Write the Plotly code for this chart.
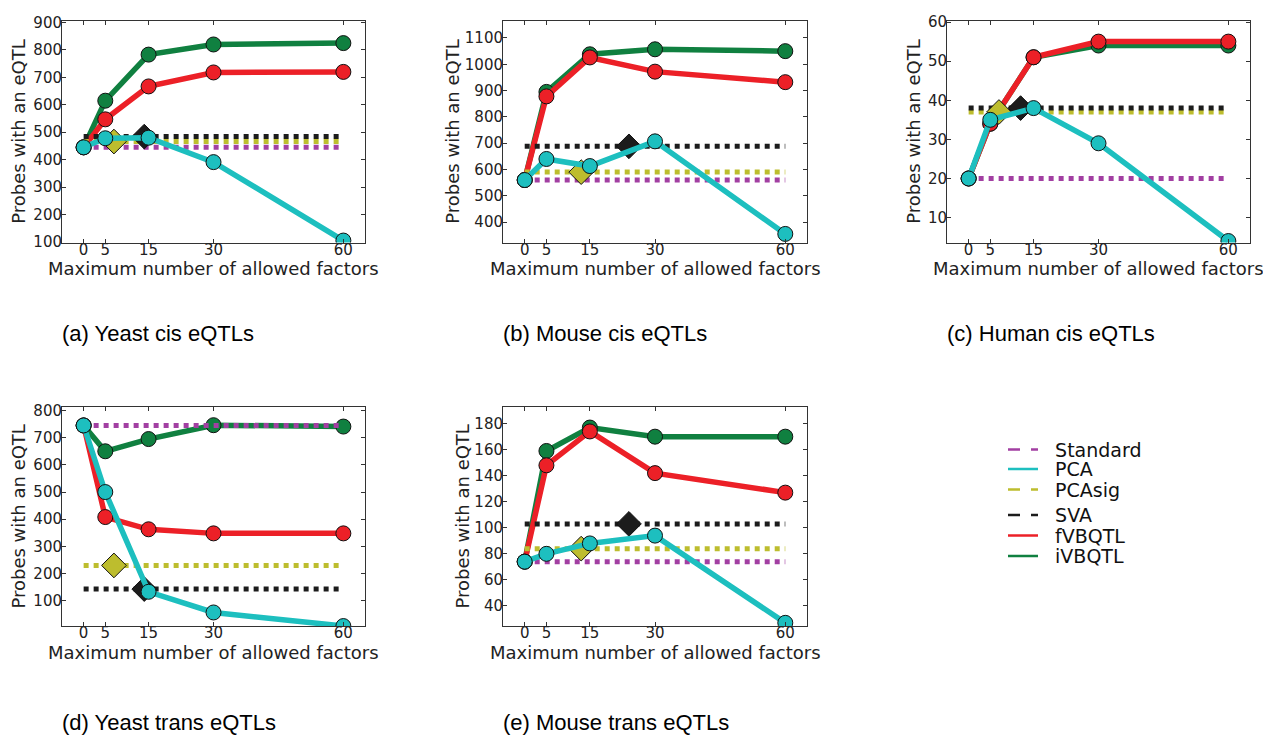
import plotly.graph_objects as go

# ---------------- data ----------------
factors = [0, 5, 15, 30, 60]
xtick_labels = ["0", "5", "15", "30", "60"]

panel_titles = ["(a) Yeast cis eQTLs", "(b) Mouse cis eQTLs", "(c) Human cis eQTLs",
                "(d) Yeast trans eQTLs", "(e) Mouse trans eQTLs"]

# (a) Yeast cis
yeast_cis_pca = [445, 478, 480, 391, 105]
yeast_cis_fvbqtl = [445, 547, 667, 718, 720]
yeast_cis_ivbqtl = [445, 615, 783, 820, 825]
yeast_cis_standard = 445
yeast_cis_pcasig = 466
yeast_cis_pcasig_k = 7
yeast_cis_sva = 484
yeast_cis_sva_k = 14

# (b) Mouse cis
mouse_cis_pca = [560, 640, 613, 707, 355]
mouse_cis_fvbqtl = [560, 878, 1026, 972, 932]
mouse_cis_ivbqtl = [560, 895, 1038, 1057, 1050]
mouse_cis_standard = 560
mouse_cis_pcasig = 590
mouse_cis_pcasig_k = 13
mouse_cis_sva = 688
mouse_cis_sva_k = 24

# (c) Human cis
human_cis_pca = [20, 35, 38, 29, 4]
human_cis_fvbqtl = [20, 34, 51, 55, 55]
human_cis_ivbqtl = [20, 34, 51, 54, 54]
human_cis_standard = 20
human_cis_pcasig = 37
human_cis_pcasig_k = 7
human_cis_sva = 38
human_cis_sva_k = 12

# (d) Yeast trans
yeast_trans_pca = [745, 500, 133, 57, 7]
yeast_trans_fvbqtl = [745, 408, 363, 348, 348]
yeast_trans_ivbqtl = [745, 650, 695, 746, 741]
yeast_trans_standard = 745
yeast_trans_pcasig = 230
yeast_trans_pcasig_k = 7
yeast_trans_sva = 143
yeast_trans_sva_k = 14

# (e) Mouse trans
mouse_trans_pca = [74, 80, 88, 94, 27]
mouse_trans_fvbqtl = [74, 148, 174, 142, 127]
mouse_trans_ivbqtl = [74, 159, 177, 170, 170]
mouse_trans_standard = 74
mouse_trans_pcasig = 84
mouse_trans_pcasig_k = 13
mouse_trans_sva = 103
mouse_trans_sva_k = 24

series_names = ["Standard", "PCA", "PCAsig", "SVA", "fVBQTL", "iVBQTL"]

# ---------------- styles ----------------
C_STD = "#a23fa2"
C_PCA = "#1dbfbf"
C_PCASIG = "#bdbd2e"
C_SVA = "#1c1c1c"
C_FVB = "#ec2027"
C_IVB = "#108040"
colors = dict(zip(series_names, [C_STD, C_PCA, C_PCASIG, C_SVA, C_FVB, C_IVB]))

TICKFONT = dict(family="DejaVu Sans", size=15, color="#222222")
TITLEFONT = dict(family="DejaVu Sans", size=18, color="#222222")
SUBFONT = dict(family="Liberation Sans, Arial", size=22, color="#000000")

# the page body has an 8px margin on every side: make the figure fit exactly inside
OFF = 8
W, H = 1271 - 2 * OFF, 748 - 2 * OFF


def PX(x):
    return (x - OFF) / W


def PY(y):
    return 1 - (y - OFF) / H


panels = [
    dict(pca=yeast_cis_pca, fvb=yeast_cis_fvbqtl, ivb=yeast_cis_ivbqtl, std=yeast_cis_standard,
         pcasig=yeast_cis_pcasig, pcasig_k=yeast_cis_pcasig_k, sva=yeast_cis_sva, sva_k=yeast_cis_sva_k,
         yrange=[97.5, 906], dtick=100, tick0=100, px=(62, 365), py=(13, 240), ytx=19, suby=333),
    dict(pca=mouse_cis_pca, fvb=mouse_cis_fvbqtl, ivb=mouse_cis_ivbqtl, std=mouse_cis_standard,
         pcasig=mouse_cis_pcasig, pcasig_k=mouse_cis_pcasig_k, sva=mouse_cis_sva, sva_k=mouse_cis_sva_k,
         yrange=[322, 1165], dtick=100, tick0=400, px=(503, 807), py=(13, 240), ytx=453, suby=333),
    dict(pca=human_cis_pca, fvb=human_cis_fvbqtl, ivb=human_cis_ivbqtl, std=human_cis_standard,
         pcasig=human_cis_pcasig, pcasig_k=human_cis_pcasig_k, sva=human_cis_sva, sva_k=human_cis_sva_k,
         yrange=[3.6, 60.3], dtick=10, tick0=10, px=(947, 1250), py=(13, 240), ytx=914, suby=333),
    dict(pca=yeast_trans_pca, fvb=yeast_trans_fvbqtl, ivb=yeast_trans_ivbqtl, std=yeast_trans_standard,
         pcasig=yeast_trans_pcasig, pcasig_k=yeast_trans_pcasig_k, sva=yeast_trans_sva, sva_k=yeast_trans_sva_k,
         yrange=[5.4, 814], dtick=100, tick0=100, px=(62, 365), py=(408, 633), ytx=19, suby=731),
    dict(pca=mouse_trans_pca, fvb=mouse_trans_fvbqtl, ivb=mouse_trans_ivbqtl, std=mouse_trans_standard,
         pcasig=mouse_trans_pcasig, pcasig_k=mouse_trans_pcasig_k, sva=mouse_trans_sva, sva_k=mouse_trans_sva_k,
         yrange=[24.2, 193], dtick=20, tick0=40, px=(503, 807), py=(408, 633), ytx=463, suby=731),
]

fig = go.Figure()
annotations = []
layout_axes = {}

LW = 5.5
MK = dict(size=15, line=dict(color="#111111", width=1))

for i, p in enumerate(panels):
    n = "" if i == 0 else str(i + 1)
    xa, ya = "x" + n, "y" + n
    x0, x1 = factors[0], factors[-1]

    def solid(yvals, color):
        return go.Scatter(x=factors, y=yvals, mode="lines+markers", xaxis=xa, yaxis=ya,
                          line=dict(color=color, width=LW),
                          marker=dict(color=color, **MK), showlegend=False, hoverinfo="x+y")

    def dotted(val, color):
        return go.Scatter(x=[x0, x1], y=[val, val], mode="lines", xaxis=xa, yaxis=ya,
                          line=dict(color=color, width=5, dash="dot"), showlegend=False,
                          hoverinfo="y")

    def diamond(k, val, color):
        return go.Scatter(x=[k], y=[val], mode="markers", xaxis=xa, yaxis=ya,
                          marker=dict(symbol="diamond", size=19, color=color,
                                      line=dict(color="#111111", width=1)),
                          showlegend=False, hoverinfo="x+y")

    fig.add_trace(solid(p["ivb"], C_IVB))
    fig.add_trace(solid(p["fvb"], C_FVB))
    fig.add_trace(dotted(p["std"], C_STD))
    fig.add_trace(dotted(p["pcasig"], C_PCASIG))
    fig.add_trace(dotted(p["sva"], C_SVA))
    fig.add_trace(diamond(p["pcasig_k"], p["pcasig"], C_PCASIG))
    fig.add_trace(diamond(p["sva_k"], p["sva"], C_SVA))
    fig.add_trace(solid(p["pca"], C_PCA))

    axcommon = dict(showline=True, mirror="ticks", linecolor="#333333", linewidth=1,
                    ticks="inside", ticklen=4, tickwidth=1, tickcolor="#333333",
                    showgrid=False, zeroline=False, tickfont=TICKFONT)
    layout_axes["xaxis" + n] = dict(
        domain=[PX(p["px"][0]), PX(p["px"][1])], range=[-5, 65], anchor=ya,
        tickmode="array", tickvals=factors, ticktext=xtick_labels,
        ticklabelstandoff=-7, **axcommon)
    layout_axes["yaxis" + n] = dict(
        domain=[PY(p["py"][1]), PY(p["py"][0])], range=p["yrange"], anchor=xa,
        tick0=p["tick0"], dtick=p["dtick"], ticklabelstandoff=-4, **axcommon)

    cx = (p["px"][0] + p["px"][1]) / 2
    annotations.append(dict(text="Maximum number of allowed factors", x=PX(cx), y=PY(p["py"][1] + 27),
                            xref="paper", yref="paper", showarrow=False, xanchor="center",
                            yanchor="middle", font=TITLEFONT))
    cy = (p["py"][0] + p["py"][1]) / 2
    annotations.append(dict(text="Probes with an eQTL", x=PX(p["ytx"]), y=PY(cy),
                            xref="paper", yref="paper", showarrow=False, xanchor="center",
                            yanchor="middle", textangle=-90, font=TITLEFONT))
    annotations.append(dict(text=panel_titles[i], x=PX(p["px"][0] - 2), y=PY(p["suby"]),
                            xref="paper", yref="paper", showarrow=False, xanchor="left",
                            yanchor="middle", font=SUBFONT))

# legend entries: one small legend per series, stacked like the reference
legend_dash = {"Standard": "12px,11px", "PCA": "solid", "PCAsig": "12px,11px",
               "SVA": "12px,11px", "fVBQTL": "solid", "iVBQTL": "solid"}
legend_rows = [452, 472, 493, 519, 540, 561]
legend_layout = {}
for j, name in enumerate(series_names):
    lname = "legend" if j == 0 else "legend%d" % (j + 1)
    fig.add_trace(go.Scatter(x=[None], y=[None], mode="lines", name="\u00a0\u00a0" + name, legend=lname,
                             line=dict(color=colors[name], width=2.5, dash=legend_dash[name]),
                             showlegend=True, xaxis="x", yaxis="y"))
    legend_layout[lname] = dict(x=PX(1003), y=PY(legend_rows[j]), xanchor="left", yanchor="middle",
                                font=dict(family="DejaVu Sans", size=19, color="#111111"),
                                bgcolor="rgba(0,0,0,0)", borderwidth=0)

fig.update_layout(
    width=W, height=H, margin=dict(l=0, r=0, t=0, b=0),
    paper_bgcolor="white", plot_bgcolor="white",
    annotations=annotations,
    showlegend=True,
    **legend_layout,
    **layout_axes,
)

fig.write_html("out.html", config={"displayModeBar": False})
